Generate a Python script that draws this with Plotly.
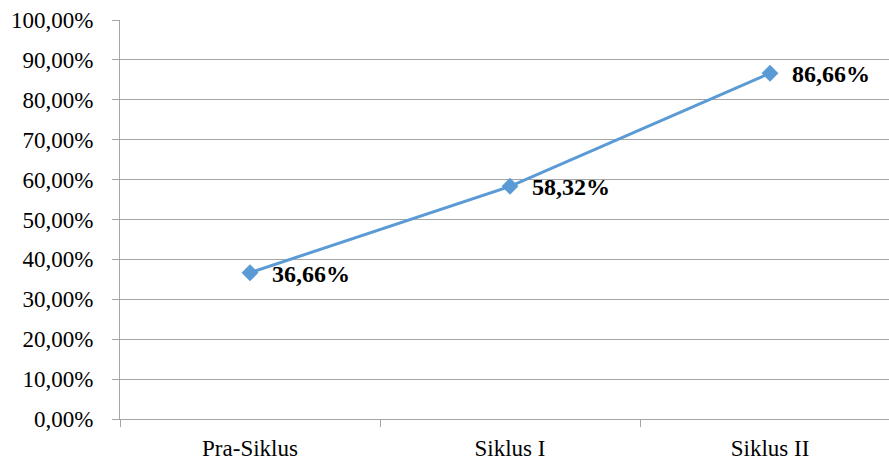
import plotly.graph_objects as go

categories = ["Pra-Siklus", "Siklus I", "Siklus II"]
values = [0.3666, 0.5832, 0.8666]
y_ticks = [i / 10 for i in range(11)]

FONT = "Liberation Serif"
GRID = "#A6A6A6"
BLUE = "#5B9BD5"

fig = go.Figure()
fig.add_trace(go.Scatter(
    x=categories, y=values,
    mode="lines+markers",
    line=dict(color=BLUE, width=3),
    marker=dict(symbol="diamond", size=13, color=BLUE),
    cliponaxis=False,
    showlegend=False,
))

for c, v in zip(categories, values):
    fig.add_annotation(
        x=c, y=v, text=f"{v * 100:.2f}%".replace(".", ","),
        showarrow=False, xanchor="left", yanchor="middle",
        xshift=20, yshift=-1,
        font=dict(family=FONT, size=24, color="black", weight="bold"),
    )

fig.update_layout(
    width=889, height=462,
    margin=dict(l=120, r=0, t=20, b=43),
    paper_bgcolor="white", plot_bgcolor="white",
    separators=",.",
    font=dict(family=FONT, size=23, color="black"),
    xaxis=dict(
        type="category",
        range=[-0.5, -0.5 + 769 / 260],
        tickson="boundaries",
        ticks="outside", ticklen=7, tickcolor=GRID,
        showline=True, linecolor=GRID, linewidth=1,
        showgrid=False,
        ticklabelstandoff=8,
        tickfont=dict(family=FONT, size=23),
    ),
    yaxis=dict(
        range=[0, 1],
        tickvals=y_ticks,
        tickformat=".2%",
        ticks="outside", ticklen=7, tickcolor=GRID,
        showline=True, linecolor=GRID, linewidth=1,
        showgrid=True, gridcolor=GRID, gridwidth=1,
        zeroline=False,
        ticklabelstandoff=14,
        tickfont=dict(family=FONT, size=23),
    ),
)

fig.write_html("out.html")
